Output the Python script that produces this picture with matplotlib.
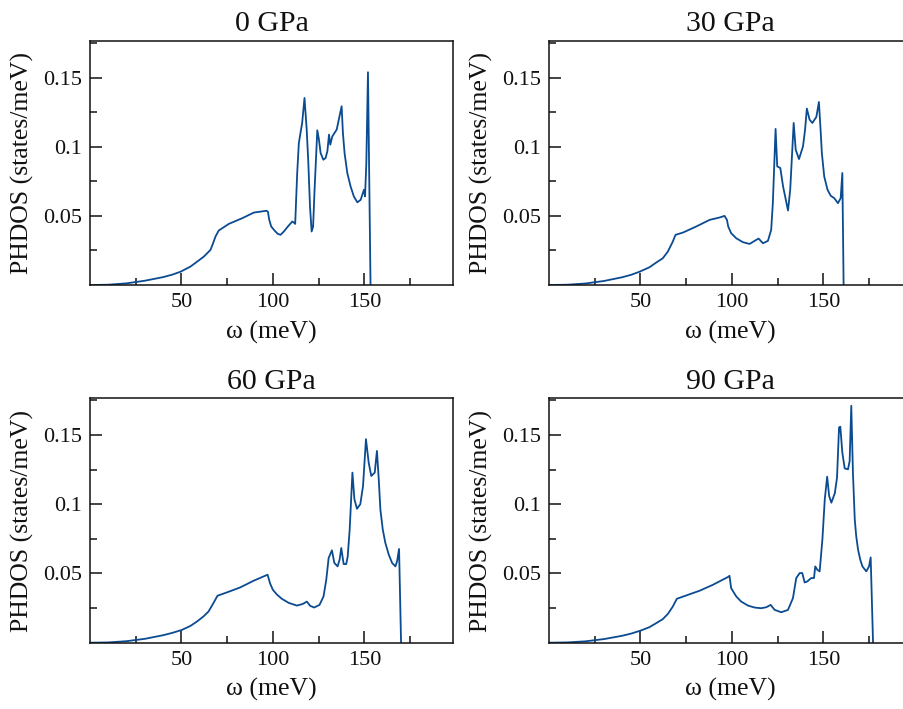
import matplotlib
matplotlib.use("Agg")
import matplotlib.pyplot as plt
from matplotlib.ticker import FixedLocator, FixedFormatter

plt.rcParams['font.family'] = ['Liberation Serif', 'DejaVu Serif']

titles = ["0 GPa", "30 GPa", "60 GPa", "90 GPa"]

w_0 = [0, 10, 20, 30, 40, 45, 49.5, 54.9, 58.6, 62.2, 65.9, 67.3, 68.6, 70.4, 75.9, 83.2, 89.6,
       96.5, 97.3, 98.0, 99.1, 100.9, 102.7, 104.2, 106.0, 108.2, 110.6, 111.5, 112.2, 113.3,
       114.2, 115.1, 116.0, 117.3, 118.5, 119.4, 120.3, 121.2, 122.0, 122.8, 124.3, 125.2, 126.1,
       127.6, 128.8, 129.8, 130.7, 131.4, 132.5, 134.9, 137.6, 138.3, 139.2, 140.7, 142.5, 144.3,
       146.2, 148.0, 149.8, 150.4, 151.1, 152.0, 153.4]
d_0 = [0, 0.0002, 0.0012, 0.0031, 0.0057, 0.0075, 0.0096, 0.0133, 0.0169, 0.0205, 0.0254, 0.0302,
       0.035, 0.0394, 0.0442, 0.0483, 0.0524, 0.0537, 0.053, 0.0472, 0.0423, 0.0394, 0.037,
       0.0363, 0.0387, 0.0423, 0.0459, 0.0452, 0.0442, 0.081, 0.1027, 0.11, 0.117, 0.1353,
       0.1124, 0.088, 0.0568, 0.0387, 0.0423, 0.0689, 0.1119, 0.1051, 0.0955, 0.0906, 0.0918,
       0.0967, 0.1088, 0.1015, 0.1075, 0.1124, 0.1293, 0.110, 0.0955, 0.081, 0.0713, 0.064,
       0.0598, 0.0616, 0.0689, 0.0641, 0.088, 0.1539, 0.0]

w_30 = [0, 10, 20, 30, 40, 45, 49.5, 54.9, 58.6, 62.2, 65.0, 67.7, 69.2, 73.2, 80.5, 87.8, 93.2,
        96.0, 97.3, 98.0, 99.6, 102.4, 106.0, 109.7, 112.4, 114.6, 117.0, 119.7, 121.5, 122.4,
        123.9, 124.8, 126.5, 128.0, 130.7, 131.9, 133.8, 134.9, 136.7, 138.9, 140.0, 141.0, 142.5,
        144.0, 146.2, 147.6, 148.5, 149.2, 150.5, 152.3, 154.1, 156.0, 158.0, 159.5, 160.4, 161.1]
d_30 = [0, 0.0002, 0.0011, 0.0029, 0.0056, 0.0074, 0.0096, 0.0128, 0.0162, 0.0193, 0.0242, 0.0314,
        0.0363, 0.0379, 0.0423, 0.0471, 0.0488, 0.05, 0.0471, 0.0423, 0.0375, 0.0338, 0.031,
        0.0297, 0.0319, 0.0336, 0.0302, 0.0319, 0.0399, 0.0592, 0.1129, 0.0858, 0.0846, 0.0713,
        0.0539, 0.0689, 0.1172, 0.0979, 0.0911, 0.1003, 0.112, 0.1276, 0.1196, 0.1172, 0.1216,
        0.1324, 0.1124, 0.0955, 0.0785, 0.0689, 0.0645, 0.0628, 0.0592, 0.0628, 0.081, 0.0]

w_60 = [0, 10, 20, 30, 40, 45, 50.2, 54.9, 58.4, 62.0, 64.8, 67.5, 69.7, 74.8, 82.1, 89.4, 97.1,
        98.5, 100.0, 102.2, 104.9, 108.6, 113.1, 116.4, 118.6, 120.4, 122.6, 125.5, 127.7, 129.2,
        130.5, 132.3, 133.6, 135.4, 136.5, 137.4, 138.7, 140.1, 140.9, 142.0, 143.5, 144.6, 146.0,
        147.8, 149.3, 150.9, 152.4, 153.8, 155.7, 156.9, 157.9, 158.8, 160.1, 161.5, 163.4, 165.2,
        167.0, 167.9, 169.0, 170.1]
d_60 = [0, 0.0002, 0.0011, 0.0028, 0.0054, 0.0071, 0.0092, 0.0121, 0.0152, 0.0189, 0.0225, 0.0286,
        0.0339, 0.0363, 0.0399, 0.0447, 0.0491, 0.0427, 0.0382, 0.0348, 0.0317, 0.0288, 0.0268,
        0.028, 0.0297, 0.0266, 0.0254, 0.0273, 0.0334, 0.0455, 0.0612, 0.0667, 0.0576, 0.0551,
        0.06, 0.0684, 0.0568, 0.0568, 0.062, 0.0817, 0.1228, 0.1035, 0.0967, 0.1, 0.1131, 0.147,
        0.13, 0.1204, 0.1228, 0.1385, 0.118, 0.096, 0.0817, 0.0721, 0.0635, 0.0576, 0.0551,
        0.0587, 0.0677, 0.0]

w_90 = [0, 10, 20, 30, 40, 45, 50.0, 54.9, 58.6, 62.2, 65.0, 67.7, 69.9, 75.0, 82.3, 89.6, 97.8,
        98.7, 99.6, 102.4, 105.1, 108.8, 112.4, 116.0, 118.8, 121.2, 123.4, 127.0, 130.7, 133.4,
        135.2, 137.1, 138.5, 139.8, 141.2, 143.4, 144.9, 145.6, 146.7, 148.0, 149.5, 150.8, 152.1,
        153.2, 154.4, 156.3, 157.5, 158.6, 159.3, 160.4, 161.7, 163.5, 164.4, 165.3, 166.2, 167.2,
        168.0, 169.0, 170.2, 171.4, 173.5, 175.0, 175.9, 177.2]
d_90 = [0, 0.0002, 0.001, 0.0026, 0.005, 0.0066, 0.0087, 0.0112, 0.0141, 0.017, 0.0208, 0.0261,
        0.0317, 0.0341, 0.0375, 0.0418, 0.0474, 0.0483, 0.0394, 0.0334, 0.0297, 0.0268, 0.0254,
        0.0249, 0.0256, 0.0273, 0.0237, 0.022, 0.0237, 0.0322, 0.0467, 0.0503, 0.0503, 0.0435,
        0.0442, 0.0467, 0.0467, 0.0551, 0.0527, 0.0515, 0.0745, 0.1035, 0.1199, 0.1059, 0.1011,
        0.108, 0.1192, 0.1554, 0.156, 0.1373, 0.1259, 0.1252, 0.1312, 0.1711, 0.1228, 0.089,
        0.0769, 0.0672, 0.06, 0.0551, 0.0515, 0.0551, 0.0616, 0.0]

series = [(w_0, d_0), (w_30, d_30), (w_60, d_60), (w_90, d_90)]

x_ticks_major = [50, 100, 150]
x_ticks_minor = [25, 75, 125, 175]
y_ticks_major = [0.05, 0.1, 0.15]
y_ticks_minor = [0.025, 0.075, 0.125, 0.175]
y_tick_labels = ["0.05", "0.1", "0.15"]

W, H = 904, 709
fig = plt.figure(figsize=(W / 100, H / 100), dpi=100)

boxes = [
    (90, 41, 363, 244),
    (549, 41, 363, 244),
    (90, 398.3, 363, 244.4),
    (549, 398.3, 363, 244.4),
]

line_color = '#0b4b91'
for (x0, y0, w, h), (xs, ys), t in zip(boxes, series, titles):
    ax = fig.add_axes([x0 / W, 1 - (y0 + h) / H, w / W, h / H])
    ax.plot(xs, ys, color=line_color, lw=1.3, solid_joinstyle='round')
    ax.set_xlim(0, 198.5)
    ax.set_ylim(0, 0.1765)
    ax.xaxis.set_major_locator(FixedLocator(x_ticks_major))
    ax.xaxis.set_minor_locator(FixedLocator(x_ticks_minor))
    ax.yaxis.set_major_locator(FixedLocator(y_ticks_major))
    ax.yaxis.set_minor_locator(FixedLocator(y_ticks_minor))
    ax.yaxis.set_major_formatter(FixedFormatter(y_tick_labels))
    ax.tick_params(which='both', direction='in', top=False, right=False, width=1.1,
                   labelsize=16, colors='#111111')
    ax.tick_params(which='major', length=8.5, pad=6)
    ax.tick_params(which='minor', length=5)
    for sp in ax.spines.values():
        sp.set_linewidth(1.1)
        sp.set_color('#111111')
    ax.set_title(t, fontsize=21.5, pad=7, color='#111111')
    ax.set_xlabel('ω (meV)', fontsize=18.5, labelpad=6, color='#111111')
    ax.set_ylabel('PHDOS (states/meV)', fontsize=18.5, labelpad=6, color='#111111')

fig.savefig('out.png', dpi=100)
